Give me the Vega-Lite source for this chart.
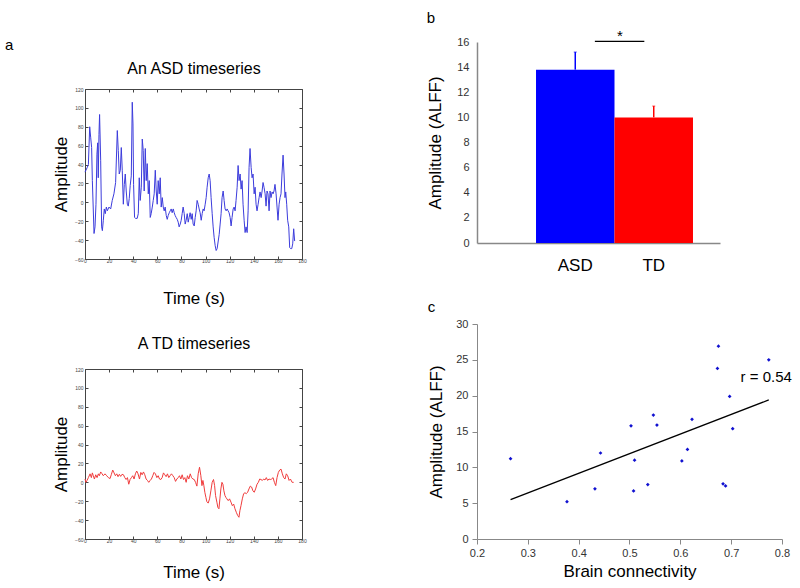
{
 "$schema": "https://vega.github.io/schema/vega-lite/v6.json",
 "background": "white",
 "padding": {"left": 5, "top": 11, "right": 5, "bottom": 5},
 "config": {
  "font": "Liberation Sans",
  "view": {"stroke": null},
  "axis": {"grid": false, "labelOverlap": false, "labelFlush": false, "labelFont": "Liberation Sans", "titleFont": "Liberation Sans", "titleFontWeight": "normal", "labelColor": "#333333", "titleColor": "#000000", "domainColor": "#888888", "tickColor": "#888888"},
  "title": {"font": "Liberation Sans", "fontWeight": "normal", "fontSize": 15, "anchor": "start", "frame": "bounds", "color": "#000000"}
 },
 "datasets": {
  "asd": [{"t":0,"v":32},{"t":1.9,"v":37},{"t":2.8,"v":40},{"t":3.9,"v":80},{"t":4.7,"v":69},{"t":5.5,"v":58},{"t":6.1,"v":23},{"t":7.5,"v":-33},{"t":8.3,"v":-26},{"t":9.1,"v":-2},{"t":9.9,"v":51},{"t":10.5,"v":63},{"t":11.0,"v":26},{"t":11.6,"v":72},{"t":12.1,"v":93},{"t":13.0,"v":44},{"t":13.8,"v":-26},{"t":14.4,"v":-30},{"t":15.2,"v":-19},{"t":16.0,"v":-7},{"t":16.8,"v":-12},{"t":17.7,"v":-5},{"t":18.5,"v":-9},{"t":19.9,"v":-5},{"t":21.3,"v":-7},{"t":22.6,"v":2},{"t":24.0,"v":9},{"t":25.4,"v":21},{"t":26.8,"v":76},{"t":27.6,"v":55},{"t":28.4,"v":30},{"t":29.3,"v":34},{"t":30.1,"v":58},{"t":30.9,"v":34},{"t":31.8,"v":-2},{"t":32.6,"v":19},{"t":33.4,"v":30},{"t":34.2,"v":12},{"t":35.1,"v":-2},{"t":35.9,"v":-4},{"t":36.7,"v":4},{"t":37.5,"v":18},{"t":38.4,"v":28},{"t":39.2,"v":106},{"t":39.8,"v":83},{"t":40.3,"v":19},{"t":41.1,"v":-16},{"t":42.0,"v":-17},{"t":43.3,"v":-17},{"t":44.2,"v":-12},{"t":45.0,"v":26},{"t":45.8,"v":2},{"t":46.7,"v":16},{"t":47.5,"v":67},{"t":48.3,"v":55},{"t":49.1,"v":12},{"t":50.0,"v":57},{"t":50.8,"v":23},{"t":51.6,"v":41},{"t":52.5,"v":9},{"t":53.3,"v":23},{"t":54.1,"v":-16},{"t":54.9,"v":-12},{"t":55.8,"v":-5},{"t":56.6,"v":2},{"t":57.4,"v":9},{"t":58.3,"v":34},{"t":59.1,"v":12},{"t":59.9,"v":-2},{"t":60.7,"v":23},{"t":61.6,"v":9},{"t":62.4,"v":26},{"t":63.2,"v":-5},{"t":64.1,"v":5},{"t":64.9,"v":-5},{"t":65.7,"v":-9},{"t":66.5,"v":-5},{"t":67.4,"v":-14},{"t":68.2,"v":-18},{"t":69.0,"v":-14},{"t":69.9,"v":-11},{"t":70.7,"v":-9},{"t":71.5,"v":-7},{"t":72.3,"v":-11},{"t":73.2,"v":-7},{"t":74.0,"v":-11},{"t":74.8,"v":-14},{"t":75.6,"v":-16},{"t":76.5,"v":-18},{"t":77.3,"v":-21},{"t":78.1,"v":-26},{"t":79.0,"v":-23},{"t":79.8,"v":-19},{"t":80.6,"v":-12},{"t":81.4,"v":-5},{"t":82.3,"v":-12},{"t":83.1,"v":-23},{"t":83.9,"v":-19},{"t":84.8,"v":-12},{"t":85.6,"v":-21},{"t":86.4,"v":-16},{"t":87.2,"v":-11},{"t":88.1,"v":-18},{"t":88.9,"v":-12},{"t":89.7,"v":-23},{"t":90.6,"v":-25},{"t":91.4,"v":-16},{"t":92.2,"v":-9},{"t":93.0,"v":2},{"t":93.9,"v":-2},{"t":94.7,"v":-7},{"t":95.5,"v":-11},{"t":96.4,"v":-19},{"t":97.2,"v":-12},{"t":98.0,"v":-7},{"t":98.8,"v":-9},{"t":99.7,"v":-2},{"t":100.5,"v":5},{"t":101.3,"v":16},{"t":102.2,"v":26},{"t":103.0,"v":30},{"t":103.8,"v":23},{"t":104.6,"v":5},{"t":105.5,"v":-12},{"t":106.3,"v":-26},{"t":107.1,"v":-37},{"t":108.0,"v":-46},{"t":108.8,"v":-51},{"t":109.6,"v":-49},{"t":110.4,"v":-42},{"t":111.3,"v":-34},{"t":112.1,"v":-23},{"t":112.9,"v":-12},{"t":113.7,"v":5},{"t":114.6,"v":12},{"t":115.4,"v":2},{"t":116.2,"v":-7},{"t":117.1,"v":-9},{"t":117.9,"v":-7},{"t":118.7,"v":-9},{"t":119.5,"v":-11},{"t":120.4,"v":-16},{"t":121.2,"v":-25},{"t":122.0,"v":-16},{"t":122.9,"v":-7},{"t":123.7,"v":-5},{"t":124.5,"v":-9},{"t":125.3,"v":2},{"t":126.2,"v":16},{"t":127.0,"v":39},{"t":127.8,"v":23},{"t":128.7,"v":30},{"t":129.5,"v":14},{"t":130.3,"v":23},{"t":131.1,"v":-2},{"t":132.0,"v":-19},{"t":132.8,"v":-32},{"t":133.6,"v":-26},{"t":134.5,"v":-32},{"t":135.3,"v":-9},{"t":136.1,"v":37},{"t":136.9,"v":57},{"t":137.8,"v":37},{"t":138.6,"v":26},{"t":139.4,"v":30},{"t":140.3,"v":9},{"t":141.1,"v":16},{"t":141.9,"v":-2},{"t":142.7,"v":-9},{"t":143.6,"v":-2},{"t":144.4,"v":5},{"t":145.2,"v":11},{"t":146.1,"v":5},{"t":146.9,"v":12},{"t":147.7,"v":21},{"t":148.5,"v":16},{"t":149.4,"v":9},{"t":150.2,"v":-4},{"t":151.0,"v":12},{"t":151.8,"v":9},{"t":152.7,"v":-9},{"t":153.5,"v":12},{"t":154.3,"v":5},{"t":155.2,"v":11},{"t":156.0,"v":9},{"t":156.8,"v":12},{"t":157.6,"v":19},{"t":158.5,"v":9},{"t":159.3,"v":-5},{"t":160.1,"v":-19},{"t":161.0,"v":-2},{"t":161.8,"v":5},{"t":162.6,"v":9},{"t":163.4,"v":30},{"t":164.3,"v":50},{"t":165.1,"v":30},{"t":165.9,"v":5},{"t":166.5,"v":11},{"t":167.3,"v":-2},{"t":168.1,"v":-19},{"t":169.0,"v":-26},{"t":169.8,"v":-48},{"t":170.6,"v":-49},{"t":171.5,"v":-49},{"t":172.3,"v":-44},{"t":173.1,"v":-28},{"t":173.9,"v":-41}],
  "td": [{"t":0,"v":3.5},{"t":0.8,"v":0},{"t":1.7,"v":2},{"t":2.8,"v":5},{"t":4.2,"v":9},{"t":5.3,"v":5},{"t":6.1,"v":10},{"t":6.9,"v":7},{"t":7.8,"v":3.5},{"t":8.9,"v":8},{"t":10.0,"v":5},{"t":11.1,"v":9},{"t":11.9,"v":7},{"t":13.0,"v":11},{"t":13.9,"v":9.5},{"t":15.2,"v":7},{"t":16.6,"v":9},{"t":18.0,"v":7},{"t":19.4,"v":5},{"t":20.8,"v":4},{"t":21.9,"v":8.5},{"t":23.0,"v":13},{"t":24.1,"v":10},{"t":25.2,"v":7},{"t":26.3,"v":9},{"t":27.4,"v":6},{"t":28.5,"v":8.5},{"t":29.6,"v":6.3},{"t":30.7,"v":8.5},{"t":31.9,"v":8},{"t":33.0,"v":5},{"t":34.1,"v":3},{"t":35.2,"v":5},{"t":36.3,"v":-2},{"t":37.4,"v":3},{"t":38.5,"v":5},{"t":39.6,"v":7},{"t":40.7,"v":3.5},{"t":41.8,"v":9},{"t":42.9,"v":12},{"t":44.0,"v":9},{"t":45.2,"v":3.5},{"t":46.3,"v":10.5},{"t":47.4,"v":8},{"t":48.5,"v":11},{"t":49.6,"v":8},{"t":50.7,"v":3.5},{"t":51.8,"v":2},{"t":52.9,"v":0},{"t":54.0,"v":2},{"t":55.1,"v":3.5},{"t":56.2,"v":7},{"t":57.3,"v":10.5},{"t":58.4,"v":9},{"t":59.6,"v":5},{"t":60.7,"v":7},{"t":61.8,"v":3.5},{"t":62.9,"v":3},{"t":64.0,"v":5},{"t":65.1,"v":10},{"t":66.2,"v":8},{"t":67.3,"v":6},{"t":68.4,"v":9},{"t":69.5,"v":5},{"t":70.6,"v":7},{"t":71.7,"v":9},{"t":72.9,"v":7},{"t":74.0,"v":5},{"t":75.1,"v":1},{"t":76.2,"v":3.5},{"t":77.3,"v":5},{"t":78.4,"v":7},{"t":79.5,"v":3.5},{"t":80.6,"v":8},{"t":81.7,"v":3},{"t":82.8,"v":5},{"t":83.9,"v":0},{"t":85.0,"v":7},{"t":86.1,"v":3.5},{"t":87.3,"v":9},{"t":88.4,"v":5},{"t":89.5,"v":3.5},{"t":90.6,"v":3},{"t":91.7,"v":0},{"t":92.8,"v":-4},{"t":93.9,"v":9},{"t":95.0,"v":16},{"t":96.1,"v":7},{"t":97.0,"v":-3.5},{"t":97.8,"v":2},{"t":98.6,"v":-3.5},{"t":99.4,"v":-10.5},{"t":100.3,"v":-16},{"t":101.1,"v":-20.5},{"t":102.2,"v":-22},{"t":103.3,"v":-17.5},{"t":104.4,"v":-9},{"t":105.5,"v":0},{"t":106.6,"v":3},{"t":107.5,"v":-3.5},{"t":108.3,"v":-14},{"t":109.4,"v":-21},{"t":110.2,"v":-26.5},{"t":111.1,"v":-28},{"t":111.9,"v":-17.5},{"t":112.7,"v":-7},{"t":113.6,"v":0},{"t":114.4,"v":-2},{"t":115.2,"v":-9},{"t":116.1,"v":-14},{"t":116.9,"v":-16},{"t":117.7,"v":-17.5},{"t":118.8,"v":-19.4},{"t":119.9,"v":-17.5},{"t":121.1,"v":-21},{"t":122.2,"v":-24.7},{"t":123.3,"v":-23},{"t":124.4,"v":-28},{"t":125.5,"v":-31.7},{"t":126.6,"v":-35},{"t":127.7,"v":-37},{"t":128.5,"v":-30},{"t":129.4,"v":-24.7},{"t":130.5,"v":-17.5},{"t":131.6,"v":-12},{"t":132.7,"v":-11},{"t":133.8,"v":-12},{"t":134.9,"v":-10.5},{"t":136.0,"v":-7},{"t":137.1,"v":-4},{"t":138.2,"v":-5},{"t":139.3,"v":-9},{"t":140.4,"v":-10.5},{"t":141.5,"v":-7},{"t":142.7,"v":-2},{"t":143.8,"v":0},{"t":144.9,"v":3.5},{"t":146.0,"v":3},{"t":147.1,"v":2},{"t":148.2,"v":3.5},{"t":149.3,"v":2.5},{"t":150.4,"v":5},{"t":151.5,"v":2},{"t":152.6,"v":3.5},{"t":153.7,"v":3},{"t":154.8,"v":3.5},{"t":156.0,"v":5},{"t":157.1,"v":0},{"t":158.2,"v":-3.5},{"t":159.3,"v":5},{"t":160.4,"v":10.5},{"t":161.5,"v":13},{"t":162.6,"v":14},{"t":163.7,"v":9},{"t":164.8,"v":5},{"t":165.9,"v":3.5},{"t":167.0,"v":9},{"t":168.1,"v":7},{"t":169.3,"v":2},{"t":170.4,"v":3.5},{"t":171.8,"v":0},{"t":173.1,"v":0}],
  "groups": [{"group":"ASD","mean":13.8,"upper":15.2},{"group":"TD","mean":10.0,"upper":10.9}],
  "signif": [{"from":"ASD","to":"TD","y":16.05,"label":"*"}],
  "subjects": [{"conn":0.266,"alff":11.2},{"conn":0.377,"alff":5.2},{"conn":0.432,"alff":7.0},{"conn":0.443,"alff":12.0},{"conn":0.503,"alff":15.8},{"conn":0.510,"alff":11.0},{"conn":0.508,"alff":6.7},{"conn":0.536,"alff":7.6},{"conn":0.547,"alff":17.3},{"conn":0.554,"alff":15.9},{"conn":0.603,"alff":10.9},{"conn":0.614,"alff":12.5},{"conn":0.623,"alff":16.7},{"conn":0.673,"alff":23.8},{"conn":0.675,"alff":26.9},{"conn":0.684,"alff":7.7},{"conn":0.689,"alff":7.4},{"conn":0.697,"alff":19.9},{"conn":0.703,"alff":15.4},{"conn":0.774,"alff":25.0}],
  "fit": [{"conn":0.266,"alff":5.5},{"conn":0.774,"alff":19.4}],
  "rlabel": [{"conn":0.769,"alff":22.6,"label":"r = 0.54"}],
  "none": []
 },
 "spacing": 119,
 "hconcat": [
  {
   "spacing": 7,
   "vconcat": [
    {
     "width": 217, "height": 1,
     "title": {"text": "a", "orient": "bottom", "dx": -80, "offset": -5},
     "data": {"name": "none"},
     "mark": {"type": "point"}
    },
    {
     "spacing": 29,
     "vconcat": [
      {
       "width": 217, "height": 170,
       "data": {"name": "asd"},
       "layer": [
        {"mark": {"type": "line", "color": "#3c3cdc", "strokeWidth": 1},
         "encoding": {
          "x": {"field": "t", "type": "quantitative", "scale": {"domain": [0, 180], "nice": false},
           "axis": {"orient": "bottom", "values": [0,20,40,60,80,100,120,140,160,180], "tickCount": 20, "labelOverlap": false, "labelFlush": false, "labelFontSize": 5, "tickSize": -3, "labelPadding": 2, "domainColor": "#444444", "tickColor": "#444444", "labelColor": "#444444", "title": "Time (s)", "titleFontSize": 17, "titlePadding": 27}},
          "y": {"field": "v", "type": "quantitative", "scale": {"domain": [-60, 120], "nice": false},
           "axis": {"orient": "left", "values": [-60,-40,-20,0,20,40,60,80,100,120], "tickCount": 20, "labelOverlap": false, "labelFontSize": 5, "tickSize": -3, "labelPadding": 5, "domainColor": "#444444", "tickColor": "#444444", "labelColor": "#444444", "title": "Amplitude", "titleFontSize": 17, "titlePadding": 4}}
         }},
        {"mark": {"type": "point", "opacity": 0},
         "encoding": {
          "x": {"field": "t", "type": "quantitative",
           "axis": {"orient": "top", "values": [0,20,40,60,80,100,120,140,160,180], "tickCount": 20, "labels": false, "tickSize": -3, "domainColor": "#444444", "tickColor": "#444444", "title": "An ASD timeseries", "titleFontSize": 16, "titlePadding": 12}},
          "y": {"field": "v", "type": "quantitative",
           "axis": {"orient": "right", "values": [-60,-40,-20,0,20,40,60,80,100,120], "tickCount": 20, "labels": false, "tickSize": -3, "domainColor": "#444444", "tickColor": "#444444", "title": null}}
         }}
       ],
       "resolve": {"axis": {"x": "independent", "y": "independent"}}
      },
      {
       "width": 217, "height": 170,
       "data": {"name": "td"},
       "layer": [
        {"mark": {"type": "line", "color": "#f03c3c", "strokeWidth": 1},
         "encoding": {
          "x": {"field": "t", "type": "quantitative", "scale": {"domain": [0, 180], "nice": false},
           "axis": {"orient": "bottom", "values": [0,20,40,60,80,100,120,140,160,180], "tickCount": 20, "labelOverlap": false, "labelFlush": false, "labelFontSize": 5, "tickSize": -3, "labelPadding": 2, "domainColor": "#444444", "tickColor": "#444444", "labelColor": "#444444", "title": "Time (s)", "titleFontSize": 17, "titlePadding": 21}},
          "y": {"field": "v", "type": "quantitative", "scale": {"domain": [-60, 120], "nice": false},
           "axis": {"orient": "left", "values": [-60,-40,-20,0,20,40,60,80,100,120], "tickCount": 20, "labelOverlap": false, "labelFontSize": 5, "tickSize": -3, "labelPadding": 5, "domainColor": "#444444", "tickColor": "#444444", "labelColor": "#444444", "title": "Amplitude", "titleFontSize": 17, "titlePadding": 4}}
         }},
        {"mark": {"type": "point", "opacity": 0},
         "encoding": {
          "x": {"field": "t", "type": "quantitative",
           "axis": {"orient": "top", "values": [0,20,40,60,80,100,120,140,160,180], "tickCount": 20, "labels": false, "tickSize": -3, "domainColor": "#444444", "tickColor": "#444444", "title": "A TD timeseries", "titleFontSize": 16, "titlePadding": 17}},
          "y": {"field": "v", "type": "quantitative",
           "axis": {"orient": "right", "values": [-60,-40,-20,0,20,40,60,80,100,120], "tickCount": 20, "labels": false, "tickSize": -3, "domainColor": "#444444", "tickColor": "#444444", "title": null}}
         }}
       ],
       "resolve": {"axis": {"x": "independent", "y": "independent"}}
      }
     ]
    }
   ]
  },
  {
   "spacing": 27,
   "vconcat": [
    {
     "width": 243, "height": 201,
     "title": {"text": "b", "offset": 3},
     "layer": [
      {"data": {"name": "groups"}, "mark": {"type": "bar"},
       "encoding": {
        "x": {"field": "group", "type": "nominal", "scale": {"domain": ["ASD", "TD"], "paddingInner": 0, "paddingOuter": 0.548, "align": 0.686},
         "axis": {"title": null, "ticks": false, "labelAngle": 0, "labelFontSize": 17, "labelColor": "#000000", "labelPadding": 14, "domainColor": "#888888", "domainWidth": 1.5}},
        "y": {"field": "mean", "type": "quantitative", "scale": {"domain": [0, 16], "nice": false},
         "axis": {"title": "Amplitude (ALFF)", "values": [0,2,4,6,8,10,12,14,16], "tickCount": 20, "labelOverlap": false, "ticks": false, "labelFontSize": 11, "labelPadding": 8, "titleFontSize": 17, "titlePadding": 12, "domainWidth": 1.5}},
        "color": {"field": "group", "type": "nominal", "scale": {"domain": ["ASD", "TD"], "range": ["#0000ff", "#ff0000"]}, "legend": null}
       }},
      {"data": {"name": "groups"}, "mark": {"type": "rule", "strokeWidth": 1.5},
       "encoding": {
        "x": {"field": "group", "type": "nominal"},
        "y": {"field": "mean", "type": "quantitative"},
        "y2": {"field": "upper"},
        "color": {"field": "group", "type": "nominal", "legend": null}
       }},
      {"data": {"name": "groups"}, "mark": {"type": "tick", "thickness": 1, "size": 3},
       "encoding": {
        "x": {"field": "group", "type": "nominal"},
        "y": {"field": "upper", "type": "quantitative"},
        "color": {"field": "group", "type": "nominal", "legend": null}
       }},
      {"data": {"name": "signif"}, "mark": {"type": "rule", "color": "#000000", "strokeWidth": 1.2},
       "encoding": {
        "x": {"field": "from", "type": "nominal", "bandPosition": 0.75},
        "x2": {"field": "to", "bandPosition": 0.38},
        "y": {"field": "y", "type": "quantitative"}
       }},
      {"data": {"name": "signif"}, "mark": {"type": "text", "fontSize": 15, "baseline": "alphabetic", "dy": 0, "color": "#000000"},
       "encoding": {
        "x": {"field": "to", "type": "nominal", "bandPosition": 0.07},
        "y": {"field": "y", "type": "quantitative"},
        "text": {"field": "label"}
       }}
     ]
    },
    {
     "width": 305, "height": 215,
     "title": {"text": "c", "offset": 3},
     "layer": [
      {"data": {"name": "subjects"}, "mark": {"type": "point", "shape": "diamond", "filled": true, "size": 14, "color": "#1010d0", "opacity": 1},
       "encoding": {
        "x": {"field": "conn", "type": "quantitative", "scale": {"domain": [0.2, 0.8], "nice": false},
         "axis": {"values": [0.2,0.3,0.4,0.5,0.6,0.7,0.8], "tickCount": 20, "labelOverlap": false, "labelFlush": false, "format": ".1f", "title": "Brain connectivity", "labelFontSize": 11, "titleFontSize": 17, "tickSize": 5, "labelPadding": 3, "titlePadding": 5}},
        "y": {"field": "alff", "type": "quantitative", "scale": {"domain": [0, 30], "nice": false},
         "axis": {"values": [0,5,10,15,20,25,30], "tickCount": 20, "labelOverlap": false, "title": "Amplitude (ALFF)", "labelFontSize": 11, "titleFontSize": 17, "tickSize": 5, "labelPadding": 4, "titlePadding": 10}}
       }},
      {"data": {"name": "fit"}, "mark": {"type": "line", "color": "#000000", "strokeWidth": 1.3},
       "encoding": {
        "x": {"field": "conn", "type": "quantitative"},
        "y": {"field": "alff", "type": "quantitative"}
       }},
      {"data": {"name": "rlabel"}, "mark": {"type": "text", "fontSize": 15, "color": "#000000"},
       "encoding": {
        "x": {"field": "conn", "type": "quantitative"},
        "y": {"field": "alff", "type": "quantitative"},
        "text": {"field": "label"}
       }}
     ]
    }
   ]
  }
 ]
}
